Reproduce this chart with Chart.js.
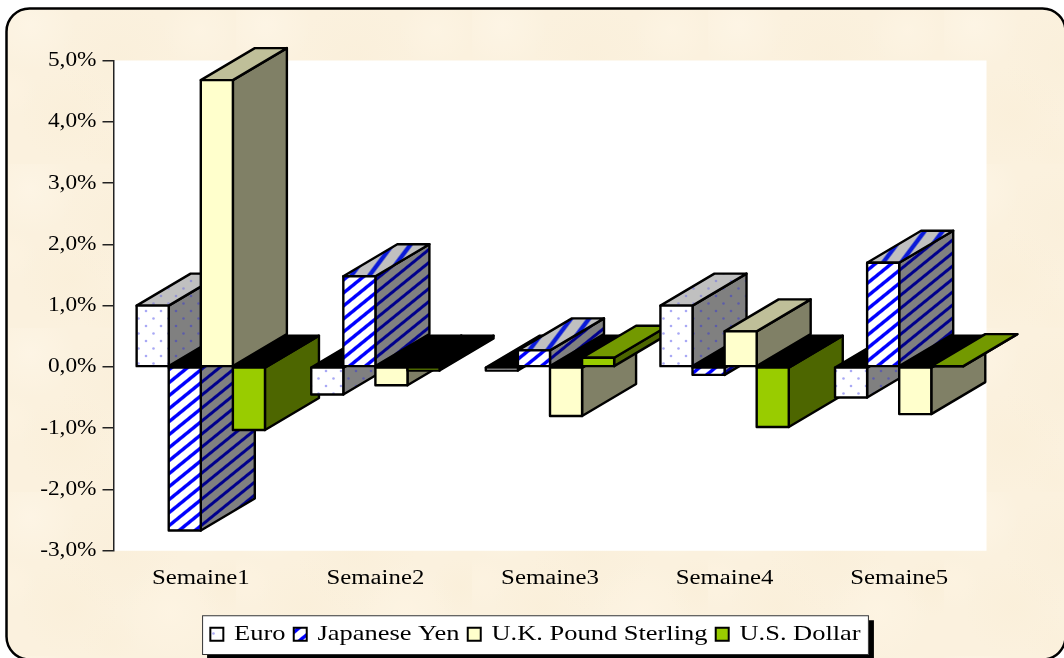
<!DOCTYPE html>
<html>
<head>
<meta charset="utf-8">
<title>Semaine</title>
<style>
  html, body { margin: 0; padding: 0; background: #fff; }
  canvas { display: block; }
</style>
<script src="https://cdn.jsdelivr.net/npm/chart.js@4/dist/chart.umd.min.js"></script>
</head>
<body>
<canvas id="chart" width="1064" height="658"></canvas>
<script>
// Weekly currency moves, in percent
const categories = ['Semaine1', 'Semaine2', 'Semaine3', 'Semaine4', 'Semaine5'];
const seriesNames = ['Euro', 'Japanese Yen', 'U.K. Pound Sterling', 'U.S. Dollar'];
const euro = [1.0, -0.45, -0.06, 1.0, -0.5];
const yen = [-2.67, 1.48, 0.27, -0.13, 1.7];
const sterling = [4.68, -0.3, -0.8, 0.58, -0.77];
const dollar = [-1.03, -0.06, 0.15, -0.98, 0.01];
const axisMin = -3;
const axisMax = 5;
const axisStep = 1;

const DEPTH_X = 54;
const DEPTH_Y = 32;
const EDGE = 2.4;

// The type is set wide: each font size carries its own horizontal scale.
const WIDTHS = { 21: 1.11, 20.5: 1.21, 21.5: 1.23 };
const canvas = document.getElementById('chart');
const ctx = canvas.getContext('2d');
const baseFill = ctx.fillText.bind(ctx);
const baseMeasure = ctx.measureText.bind(ctx);
const widthOf = () => WIDTHS[parseFloat(ctx.font.match(/([\d.]+)px/)[1])] || 1;
ctx.fillText = function (text, x, y) {
  const k = widthOf();
  ctx.save();
  ctx.translate(x, y);
  ctx.scale(k, 1);
  baseFill(text, 0, 0);
  ctx.restore();
};
ctx.measureText = function (text) {
  const m = baseMeasure(text);
  return { width: m.width * widthOf(), actualBoundingBoxAscent: m.actualBoundingBoxAscent, actualBoundingBoxDescent: m.actualBoundingBoxDescent };
};

function tile(w, h, paint) {
  const c = document.createElement('canvas');
  c.width = w; c.height = h;
  paint(c.getContext('2d'), w, h);
  return ctx.createPattern(c, 'repeat');
}

function dots(bg, fg) {
  return tile(15, 15, (g, w, h) => {
    g.fillStyle = bg; g.fillRect(0, 0, w, h);
    g.fillStyle = fg;
    [[3.5, 3.5], [11, 11]].forEach(([x, y]) => {
      g.beginPath(); g.arc(x, y, 1.3, 0, Math.PI * 2); g.fill();
    });
  });
}

// Seamless diagonal hatch rising to the right; share is the inked part of each period.
function stripes(bg, fg, w, h, share) {
  return tile(w, h, (g) => {
    const img = g.createImageData(w, h);
    for (let y = 0; y < h; y++) {
      for (let x = 0; x < w; x++) {
        const phase = (x + 0.5) / w + (y + 0.5) / h;
        const d = Math.abs(phase - Math.round(phase));
        const ink = Math.min(1, Math.max(0, (share / 2 - d) * 9 + 0.5));
        const i = (y * w + x) * 4;
        for (let n = 0; n < 3; n++) img.data[i + n] = bg[n] + (fg[n] - bg[n]) * ink;
        img.data[i + 3] = 255;
      }
    }
    g.putImageData(img, 0, 0);
  });
}

const faces = [
  { front: dots('#ffffff', '#a9a9f5'), side: dots('#808080', '#5c5ca8'), top: dots('#c0c0c0', '#9494d0') },
  {
    front: stripes([255, 255, 255], [0, 0, 255], 16, 13, 0.34),
    side: stripes([128, 128, 128], [0, 0, 140], 16, 13, 0.3),
    top: stripes([192, 192, 192], [10, 26, 216], 18, 24, 0.3)
  },
  { front: '#ffffcc', side: '#808066', top: '#bfbf99' },
  { front: '#99cc00', side: '#4d6600', top: '#739900' }
];

const parchment = tile(236, 164, (g, w, h) => {
  g.fillStyle = '#fbf1de'; g.fillRect(0, 0, w, h);
  const blots = [
    [30, 25, 46, 'rgba(255,248,235,0.5)'], [120, 60, 60, 'rgba(248,236,212,0.3)'],
    [200, 30, 38, 'rgba(255,247,232,0.45)'], [70, 115, 50, 'rgba(249,236,210,0.3)'],
    [170, 120, 52, 'rgba(255,246,230,0.5)'], [225, 95, 30, 'rgba(248,235,208,0.25)'],
    [10, 90, 28, 'rgba(255,245,228,0.4)'], [110, 150, 30, 'rgba(250,238,214,0.3)']
  ];
  blots.forEach(([x, y, r, color]) => {
    const grad = g.createRadialGradient(x, y, 0, x, y, r);
    grad.addColorStop(0, color);
    grad.addColorStop(1, color.replace(/[\d.]+\)$/, '0)'));
    g.fillStyle = grad;
    g.fillRect(x - r, y - r, r * 2, r * 2);
  });
});

function polygon(c, points, fill) {
  c.beginPath();
  points.forEach(([x, y], i) => (i ? c.lineTo(x, y) : c.moveTo(x, y)));
  c.closePath();
  c.fillStyle = fill;
  c.fill();
  c.stroke();
}

const backdrop = {
  id: 'backdrop',
  afterLayout(chart) {
    // The legend sits slightly right of the page centre.
    const legend = chart.legend;
    const shift = 535.5 - (legend.left + legend.right) / 2;
    legend.left += shift;
    legend.right += shift;
  },
  beforeDraw(chart) {
    const c = chart.ctx;
    const area = chart.chartArea;
    c.save();
    c.fillStyle = '#ffffff';
    c.fillRect(0, 0, chart.width, chart.height);
    c.beginPath();
    c.roundRect(6.5, 8.5, 1059, 651, 23);
    c.fillStyle = parchment;
    c.fill();
    c.lineWidth = 2.5;
    c.strokeStyle = '#000000';
    c.stroke();
    c.fillStyle = '#ffffff';
    c.fillRect(area.left, area.top, area.right - area.left, area.bottom - area.top);

    const legend = chart.legend;
    const frameWidth = legend.lineWidths[0] + legend.options.labels.padding;
    const frameLeft = (legend.left + legend.right - frameWidth) / 2;
    const frameHeight = legend.bottom - legend.top;
    c.fillStyle = '#000000';
    c.fillRect(frameLeft + 5, legend.top + 5, frameWidth, frameHeight);
    c.fillStyle = '#ffffff';
    c.fillRect(frameLeft, legend.top, frameWidth, frameHeight);
    c.lineWidth = 1;
    c.strokeStyle = '#333333';
    c.strokeRect(frameLeft + 0.5, legend.top + 0.5, frameWidth - 1, frameHeight - 1);
    c.restore();
  },
  beforeDatasetsDraw(chart) {
    // Paint column by column so nearer bars overlap the extrusions before them.
    const c = chart.ctx;
    c.save();
    c.lineJoin = 'round';
    c.lineWidth = EDGE;
    c.strokeStyle = '#000000';
    categories.forEach((_, col) => {
      chart.data.datasets.forEach((set, s) => {
        const bar = chart.getDatasetMeta(s).data[col];
        const left = bar.x - bar.width / 2;
        const right = bar.x + bar.width / 2;
        const upper = Math.min(bar.y, bar.base);
        const lower = Math.max(bar.y, bar.base);
        const positive = set.data[col] >= 0;
        polygon(c, [[right, upper], [right + DEPTH_X, upper - DEPTH_Y], [right + DEPTH_X, lower - DEPTH_Y], [right, lower]], faces[s].side);
        polygon(c, [[left, upper], [left + DEPTH_X, upper - DEPTH_Y], [right + DEPTH_X, upper - DEPTH_Y], [right, upper]], positive ? faces[s].top : '#000000');
        bar.draw(c);
        c.strokeRect(left, upper, right - left, lower - upper);
      });
    });
    c.restore();
    return false;
  }
};

const seriesValues = [euro, yen, sterling, dollar];

new Chart(ctx, {
  type: 'bar',
  data: {
    labels: categories,
    datasets: seriesNames.map((name, s) => ({
      label: name,
      data: seriesValues[s],
      backgroundColor: faces[s].front,
      borderWidth: 0,
      barPercentage: 1,
      categoryPercentage: 0.735
    }))
  },
  plugins: [backdrop],
  options: {
    responsive: false,
    animation: false,
    layout: { padding: { top: 60.5, left: 0, right: 77.5, bottom: 3 } },
    scales: {
      x: {
        grid: { display: false },
        border: { display: false },
        ticks: { color: '#000', font: { family: 'Liberation Serif', size: 20.5 }, padding: 8, maxRotation: 0, autoSkip: false },
        afterFit(scale) { scale.height = 64.5; }
      },
      y: {
        min: axisMin,
        max: axisMax,
        grid: { drawOnChartArea: false, tickLength: 11, color: '#222222', lineWidth: 1.5 },
        border: { color: '#222222', width: 1.5 },
        ticks: {
          stepSize: axisStep,
          color: '#000',
          padding: 6,
          font: { family: 'Liberation Serif', size: 21 },
          callback: (value) => value.toFixed(1).replace('.', ',') + '%'
        },
        afterFit(scale) { scale.width = 113.5; }
      }
    },
    plugins: {
      tooltip: { enabled: false },
      title: { display: false },
      legend: {
        position: 'bottom',
        labels: {
          color: '#000',
          boxWidth: 13,
          boxHeight: 13,
          padding: 8.25,
          font: { family: 'Liberation Serif', size: 21.5 },
          generateLabels(chart) {
            return Chart.defaults.plugins.legend.labels.generateLabels(chart).map((item) => ({
              ...item, strokeStyle: '#000000', lineWidth: 2
            }));
          }
        }
      }
    }
  }
});
</script>
</body>
</html>
